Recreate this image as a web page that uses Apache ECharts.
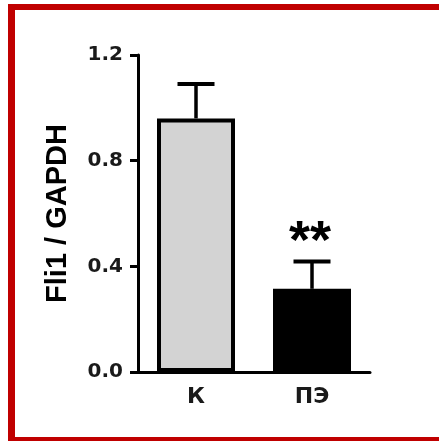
<!DOCTYPE html>
<html>
<head>
<meta charset="utf-8">
<script src="https://cdn.jsdelivr.net/npm/echarts@6/dist/echarts.min.js"></script>
<style>
  html, body { margin: 0; padding: 0; background: #fff; }
  #wrap { position: relative; width: 439px; height: 441px; overflow: hidden; }
  #chart { position: absolute; left: 0; top: 0; width: 439px; height: 441px; }
  #frame { position: absolute; left: 8px; top: 4px; width: 440px; height: 437px; box-sizing: border-box;
           border-top: 6px solid #c00000; border-left: 7px solid #c00000; border-bottom: 4px solid #c00000;
           pointer-events: none; }
</style>
</head>
<body>
<div id="wrap">
  <div id="chart"></div>
  <div id="frame"></div>
</div>
<script>
const categories = ['К', 'ПЭ'];
const means = [0.96, 0.315];
const errors = [0.13, 0.103];
const significance = ['', '**'];
const yTicks = [0.0, 0.4, 0.8, 1.2];
const yAxisTitle = 'Fli1 / GAPDH';

const fillColors = ['#d3d3d3', '#000000'];

const chart = echarts.init(document.getElementById('chart'));
const font = '"Liberation Sans", Arial, sans-serif';
const wideFont = '"DejaVu Sans", sans-serif';

const option = {
  animation: false,
  backgroundColor: 'transparent',
  grid: { left: 138, right: 69, top: 55, bottom: 69 },
  xAxis: {
    type: 'category',
    data: categories,
    axisLine: { lineStyle: { color: '#000', width: 3 } },
    axisTick: { alignWithLabel: true, length: 6, lineStyle: { color: '#000', width: 3 } },
    axisLabel: { color: '#1a1a1a', fontFamily: wideFont, fontWeight: 'bold', fontSize: 22, margin: 14 }
  },
  yAxis: {
    type: 'value',
    min: yTicks[0],
    max: yTicks[yTicks.length - 1],
    interval: 0.4,
    name: yAxisTitle,
    nameLocation: 'middle',
    nameGap: 66,
    nameTextStyle: { color: '#000', fontFamily: font, fontWeight: 'bold', fontSize: 29 },
    axisLine: { show: true, lineStyle: { color: '#000', width: 3 } },
    axisTick: { show: true, length: 8, lineStyle: { color: '#000', width: 3 } },
    splitLine: { show: false },
    axisLabel: {
      color: '#1a1a1a', fontFamily: wideFont, fontWeight: 'bold', fontSize: 20, margin: 15,
      formatter: v => v.toFixed(1)
    }
  },
  series: [
    {
      type: 'bar',
      barWidth: 78,
      data: means.map((v, i) => ({
        value: v,
        itemStyle: { color: fillColors[i], borderColor: '#000', borderWidth: 4 }
      }))
    },
    {
      type: 'custom',
      z: 3,
      data: means.map((m, i) => [i, m, errors[i]]),
      renderItem: function (params, api) {
        const i = api.value(0);
        const m = api.value(1);
        const e = api.value(2);
        const base = api.coord([i, m]);
        const up = api.coord([i, m + e]);
        const half = 18.5;
        const children = [
          { type: 'line', shape: { x1: base[0], y1: base[1], x2: up[0], y2: up[1] },
            style: { stroke: '#000', lineWidth: 3.5 } },
          { type: 'line', shape: { x1: up[0] - half, y1: up[1], x2: up[0] + half, y2: up[1] },
            style: { stroke: '#000', lineWidth: 4 } }
        ];
        const sig = significance[params.dataIndex];
        if (sig) {
          children.push({
            type: 'text',
            x: up[0] - 2, y: up[1] + 9,
            style: { text: sig, fill: '#000', font: 'bold 54px ' + font, align: 'center', verticalAlign: 'bottom' }
          });
        }
        return { type: 'group', children: children };
      }
    }
  ]
};
chart.setOption(option);
</script>
</body>
</html>
